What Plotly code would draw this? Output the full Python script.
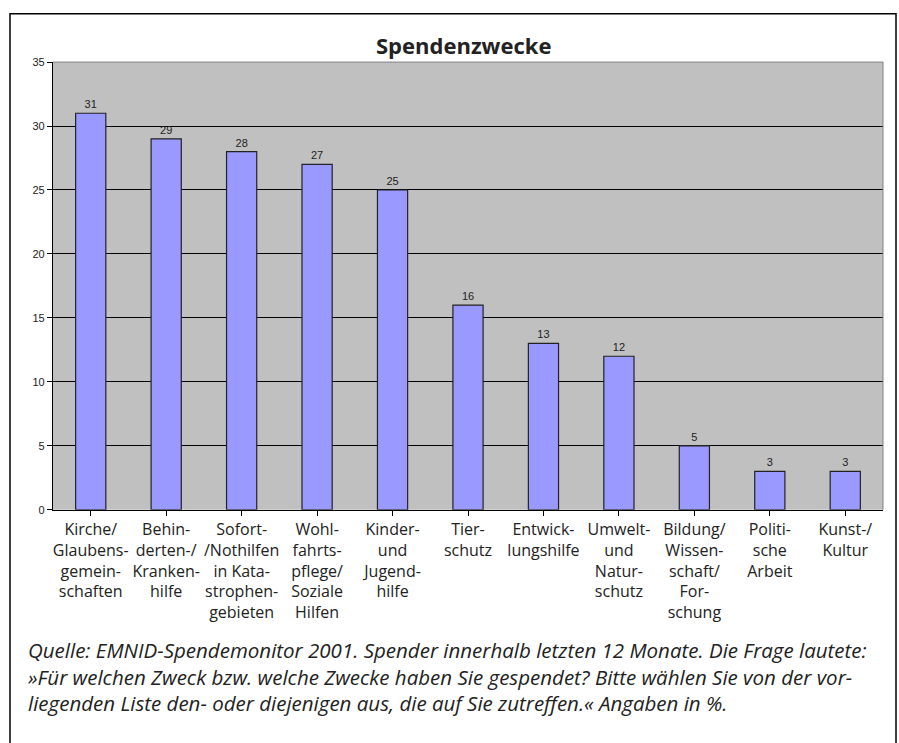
import plotly.graph_objects as go

categories = [
    "Kirche/<br>Glaubens-<br>gemein-<br>schaften",
    "Behin-<br>derten-/<br>Kranken-<br>hilfe",
    "Sofort-<br>/Nothilfen<br>in Kata-<br>strophen-<br>gebieten",
    "Wohl-<br>fahrts-<br>pflege/<br>Soziale<br>Hilfen",
    "Kinder-<br>und<br>Jugend-<br>hilfe",
    "Tier-<br>schutz",
    "Entwick-<br>lungshilfe",
    "Umwelt-<br>und<br>Natur-<br>schutz",
    "Bildung/<br>Wissen-<br>schaft/<br>For-<br>schung",
    "Politi-<br>sche<br>Arbeit",
    "Kunst-/<br>Kultur",
]
values = [31, 29, 28, 27, 25, 16, 13, 12, 5, 3, 3]
y_ticks = [0, 5, 10, 15, 20, 25, 30, 35]
title_text = "Spendenzwecke"
caption_lines = [
    "Quelle: EMNID-Spendemonitor 2001. Spender innerhalb letzten 12 Monate. Die Frage lautete:",
    "»Für welchen Zweck bzw. welche Zwecke haben Sie gespendet? Bitte wählen Sie von der vor-",
    "liegenden Liste den- oder diejenigen aus, die auf Sie zutreffen.« Angaben in %.",
]

W, H = 899, 743
x0p, x1p = 53 / W, 883 / W
y0p, y1p = 1 - 512 / H, 1 - 57 / H

fig = go.Figure()
fig.add_trace(go.Bar(
    x=list(range(len(categories))),
    y=values,
    marker=dict(color="#9999FF", line=dict(color="#222222", width=1.2)),
    text=[str(v) for v in values],
    textposition="outside",
    cliponaxis=False,
    textfont=dict(family="Liberation Sans, Arial", size=11, color="#222222"),
    width=0.4,
))

fig.update_layout(
    width=W, height=H,
    margin=dict(l=0, r=0, t=0, b=0),
    paper_bgcolor="white",
    plot_bgcolor="#C0C0C0",
    showlegend=False,
    xaxis=dict(
        domain=[x0p, x1p],
        tickmode="array",
        tickvals=list(range(len(categories))),
        ticktext=categories,
        range=[-0.5, len(categories) - 0.5],
        showline=True, linecolor="black", linewidth=1.2,
        ticks="outside", ticklen=5, tickcolor="black",
        tickson="boundaries",
        showgrid=False,
        tickangle=0,
        tickfont=dict(family="Open Sans, Noto Sans", size=16, color="#222222"),
    ),
    yaxis=dict(
        domain=[y0p, y1p],
        range=[0, 35],
        tickmode="array",
        tickvals=y_ticks,
        ticktext=[str(t) for t in y_ticks],
        showline=True, linecolor="black", linewidth=1.2,
        ticks="outside", ticklen=5, tickcolor="black",
        showgrid=True, gridcolor="black", gridwidth=1.2,
        zeroline=False,
        tickfont=dict(family="Liberation Sans, Arial", size=11, color="#222222"),
    ),
    shapes=[
        # outer frame
        dict(type="rect", xref="paper", yref="paper",
             x0=10 / W, x1=896 / W, y0=-0.02, y1=1 - 8 / H,
             line=dict(color="black", width=1.5), fillcolor="rgba(0,0,0,0)"),
        # top/right border of plot area (gray)
        dict(type="line", xref="paper", yref="paper",
             x0=x0p, x1=x1p, y0=y1p, y1=y1p,
             line=dict(color="#808080", width=1)),
        dict(type="line", xref="paper", yref="paper",
             x0=x1p, x1=x1p, y0=y0p, y1=y1p,
             line=dict(color="#808080", width=1)),
    ],
    annotations=[
        dict(text="<b>" + title_text + "</b>", xref="paper", yref="paper",
             x=463 / W, y=1 - 40 / H, xanchor="center", yanchor="middle",
             showarrow=False,
             font=dict(family="Open Sans, Noto Sans", size=22, color="#222222")),
        dict(text="<i>" + "<br>".join(caption_lines) + "</i>",
             xref="paper", yref="paper",
             x=26 / W, y=1 - 638 / H, xanchor="left", yanchor="top", align="left",
             showarrow=False,
             font=dict(family="Open Sans, Noto Sans", size=20.5, color="#222222")),
    ],
)

fig.write_html(
    "out.html",
    config={"displayModeBar": False},
    post_script="document.body.style.margin='0';document.body.style.overflow='hidden';",
)
